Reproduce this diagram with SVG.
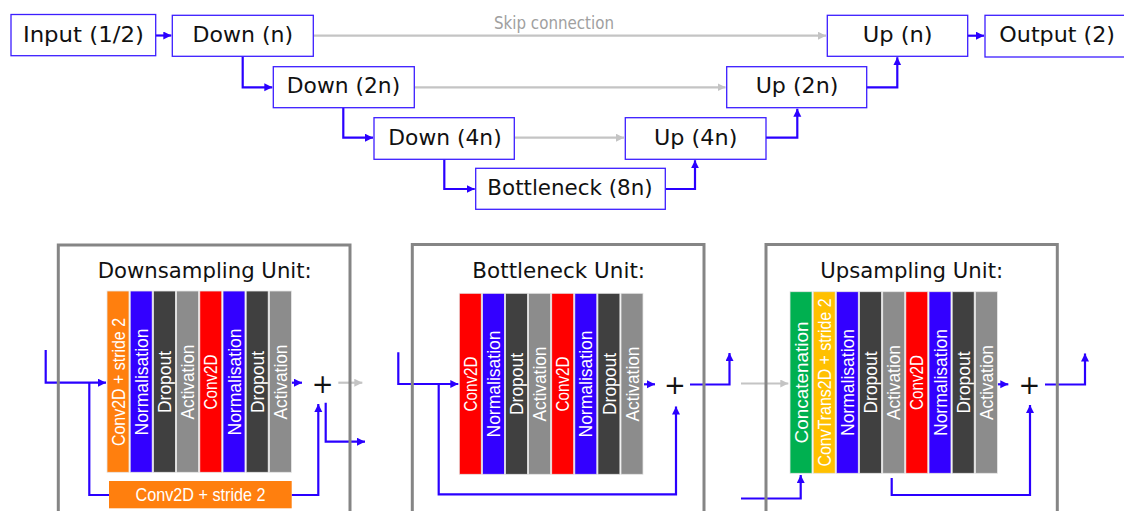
<svg xmlns="http://www.w3.org/2000/svg" width="1124" height="511" viewBox="0 0 1124 511">
<defs>
<style>
.node rect{fill:#fff;stroke:#3c1eff;stroke-width:1.3}
.lbl{font-family:"DejaVu Sans",sans-serif;font-size:22px;fill:#111;text-anchor:middle}
.title{font-family:"DejaVu Sans",sans-serif;font-size:22px;fill:#111;text-anchor:middle}
.unit{fill:none;stroke:#858585;stroke-width:3}
.col{stroke:#e6e6e6;stroke-width:0.8}
.vt{font-family:"Liberation Sans",sans-serif;font-size:18.5px;fill:#fff;text-anchor:middle}
.blue{fill:none;stroke:#2a00ff;stroke-width:2.2}
.gray{fill:none;stroke:#c4c4c4;stroke-width:2.2}
.plus{font-family:"DejaVu Sans",sans-serif;font-size:26px;fill:#111;text-anchor:middle}
.o{fill:#ff7f0e}.b{fill:#3300ff}.d{fill:#404040}.g{fill:#8c8c8c}.r{fill:#ff0000}.gr{fill:#00b050}.y{fill:#ffc000}
</style>
<marker id="ab" markerUnits="userSpaceOnUse" markerWidth="9" markerHeight="9" refX="8" refY="4" orient="auto"><path d="M0,0 L8,4 L0,8 z" fill="#2a00ff"/></marker>
<marker id="ag" markerUnits="userSpaceOnUse" markerWidth="9" markerHeight="9" refX="8" refY="4" orient="auto"><path d="M0,0 L8,4 L0,8 z" fill="#c4c4c4"/></marker>
</defs>

<g id="connectors">
<path class="gray" d="M313.5,35.7 H826" marker-end="url(#ag)"/>
<path class="gray" d="M414.5,87.3 H725.5" marker-end="url(#ag)"/>
<path class="gray" d="M514.5,137.7 H624" marker-end="url(#ag)"/>
<path class="blue" d="M155.7,35.5 H171.3" marker-end="url(#ab)"/>
<path class="blue" d="M242.7,56.3 V87.3 H272.3" marker-end="url(#ab)"/>
<path class="blue" d="M343.3,107.7 V137.7 H373" marker-end="url(#ab)"/>
<path class="blue" d="M444.3,159.3 V189 H474.7" marker-end="url(#ab)"/>
<path class="blue" d="M665.3,189 H695 V160.3" marker-end="url(#ab)"/>
<path class="blue" d="M766,137.7 H797.3 V108.7" marker-end="url(#ab)"/>
<path class="blue" d="M866.7,87.3 H897.3 V57.3" marker-end="url(#ab)"/>
<path class="blue" d="M967.7,35.7 H984" marker-end="url(#ab)"/>
<text x="554" y="29" font-family="DejaVu Sans, sans-serif" font-size="17" fill="#a0a0a0" text-anchor="middle" textLength="120" lengthAdjust="spacingAndGlyphs">Skip connection</text>

<path class="blue" d="M45.7,350 V382.7 H106" marker-end="url(#ab)"/>
<path class="blue" d="M89.3,382.7 V495 H109"/>
<path class="blue" d="M291.5,382.7 H302" marker-end="url(#ab)"/>
<path class="blue" d="M291.7,495 H318.3 V404" marker-end="url(#ab)"/>
<path class="blue" d="M325.7,402.7 V441.7 H365" marker-end="url(#ab)"/>
<path class="gray" d="M338.3,382.7 H362.3" marker-end="url(#ag)"/>

<path class="blue" d="M398.3,352.3 V384 H458.3" marker-end="url(#ab)"/>
<path class="blue" d="M438.7,384 V494.3 H676 V406.5" marker-end="url(#ab)"/>
<path class="blue" d="M644,384.3 H655" marker-end="url(#ab)"/>
<path class="blue" d="M690,384.5 H729.5 V353" marker-end="url(#ab)"/>

<path class="gray" d="M741,383.5 H788.3" marker-end="url(#ag)"/>
<path class="blue" d="M741,498.5 H800.7 V475" marker-end="url(#ab)"/>
<path class="blue" d="M891.7,478 V495 H1030 V405" marker-end="url(#ab)"/>
<path class="blue" d="M997.5,384.3 H1008.3" marker-end="url(#ab)"/>
<path class="blue" d="M1045,384.5 H1085 V353.5" marker-end="url(#ab)"/>
</g>

<g id="n-input" class="node"><rect x="11" y="14.5" width="144.7" height="41.2"/><text class="lbl" x="83.4" y="41.5" textLength="121" lengthAdjust="spacingAndGlyphs">Input (1/2)</text></g>
<g id="n-down1" class="node"><rect x="172.3" y="15.3" width="141" height="41"/><text class="lbl" x="242.9" y="42" textLength="100.6" lengthAdjust="spacingAndGlyphs">Down (n)</text></g>
<g id="n-down2" class="node"><rect x="273.3" y="66.7" width="141" height="41"/><text class="lbl" x="343.5" y="93.3" textLength="113.3" lengthAdjust="spacingAndGlyphs">Down (2n)</text></g>
<g id="n-down4" class="node"><rect x="374" y="117.7" width="140.3" height="41.6"/><text class="lbl" x="445" y="144.5" textLength="113.3" lengthAdjust="spacingAndGlyphs">Down (4n)</text></g>
<g id="n-bottleneck" class="node"><rect x="475.7" y="168.3" width="189.6" height="41"/><text class="lbl" x="570" y="195" textLength="165.3" lengthAdjust="spacingAndGlyphs">Bottleneck (8n)</text></g>
<g id="n-up4" class="node"><rect x="625.3" y="117.7" width="140.7" height="41.6"/><text class="lbl" x="695.7" y="144.5" textLength="83.3" lengthAdjust="spacingAndGlyphs">Up (4n)</text></g>
<g id="n-up2" class="node"><rect x="726.7" y="66.7" width="140" height="41"/><text class="lbl" x="797" y="93.3" textLength="82.7" lengthAdjust="spacingAndGlyphs">Up (2n)</text></g>
<g id="n-up1" class="node"><rect x="827.3" y="15.3" width="140.4" height="41"/><text class="lbl" x="897.7" y="42" textLength="70" lengthAdjust="spacingAndGlyphs">Up (n)</text></g>
<g id="n-output" class="node"><rect x="985" y="15.3" width="144" height="41.7"/><text class="lbl" x="1057.2" y="42" textLength="115.7" lengthAdjust="spacingAndGlyphs">Output (2)</text></g>

<g id="unit-down">
<rect class="unit" x="58.3" y="245" width="291.7" height="290"/>
<text class="title" x="204.7" y="278.3" textLength="214" lengthAdjust="spacingAndGlyphs">Downsampling Unit:</text>
<rect class="col o" x="107" y="291" width="22" height="181.3"/>
<rect class="col b" x="130.2" y="291" width="22" height="181.3"/>
<rect class="col d" x="153.4" y="291" width="22" height="181.3"/>
<rect class="col g" x="176.6" y="291" width="22" height="181.3"/>
<rect class="col r" x="199.8" y="291" width="22" height="181.3"/>
<rect class="col b" x="223" y="291" width="22" height="181.3"/>
<rect class="col d" x="246.2" y="291" width="22" height="181.3"/>
<rect class="col g" x="269.4" y="291" width="22" height="181.3"/>
<g transform="translate(118,382) rotate(-90)"><text class="vt" y="6.6" textLength="128" lengthAdjust="spacingAndGlyphs">Conv2D + stride 2</text></g>
<g transform="translate(141.2,382) rotate(-90)"><text class="vt" y="6.6" textLength="107" lengthAdjust="spacingAndGlyphs">Normalisation</text></g>
<g transform="translate(164.4,382) rotate(-90)"><text class="vt" y="6.6" textLength="62" lengthAdjust="spacingAndGlyphs">Dropout</text></g>
<g transform="translate(187.6,382) rotate(-90)"><text class="vt" y="6.6" textLength="75" lengthAdjust="spacingAndGlyphs">Activation</text></g>
<g transform="translate(210.8,382) rotate(-90)"><text class="vt" y="6.6" textLength="55" lengthAdjust="spacingAndGlyphs">Conv2D</text></g>
<g transform="translate(234,382) rotate(-90)"><text class="vt" y="6.6" textLength="107" lengthAdjust="spacingAndGlyphs">Normalisation</text></g>
<g transform="translate(257.2,382) rotate(-90)"><text class="vt" y="6.6" textLength="62" lengthAdjust="spacingAndGlyphs">Dropout</text></g>
<g transform="translate(280.4,382) rotate(-90)"><text class="vt" y="6.6" textLength="75" lengthAdjust="spacingAndGlyphs">Activation</text></g>
<rect class="o" x="109" y="481" width="182.7" height="27.3"/>
<text class="vt" x="200.5" y="501" textLength="130" lengthAdjust="spacingAndGlyphs">Conv2D + stride 2</text>
<text class="plus" x="322.7" y="392.5">+</text>
</g>

<g id="unit-bottleneck">
<rect class="unit" x="412.3" y="244.5" width="291.7" height="290"/>
<text class="title" x="558.7" y="278.3" textLength="172.7" lengthAdjust="spacingAndGlyphs">Bottleneck Unit:</text>
<rect class="col r" x="459.3" y="293.3" width="22" height="181"/>
<rect class="col b" x="482.4" y="293.3" width="22" height="181"/>
<rect class="col d" x="505.5" y="293.3" width="22" height="181"/>
<rect class="col g" x="528.6" y="293.3" width="22" height="181"/>
<rect class="col r" x="551.7" y="293.3" width="22" height="181"/>
<rect class="col b" x="574.8" y="293.3" width="22" height="181"/>
<rect class="col d" x="597.9" y="293.3" width="22" height="181"/>
<rect class="col g" x="621" y="293.3" width="22" height="181"/>
<g transform="translate(470.3,384) rotate(-90)"><text class="vt" y="6.6" textLength="55" lengthAdjust="spacingAndGlyphs">Conv2D</text></g>
<g transform="translate(493.4,384) rotate(-90)"><text class="vt" y="6.6" textLength="107" lengthAdjust="spacingAndGlyphs">Normalisation</text></g>
<g transform="translate(516.5,384) rotate(-90)"><text class="vt" y="6.6" textLength="62" lengthAdjust="spacingAndGlyphs">Dropout</text></g>
<g transform="translate(539.6,384) rotate(-90)"><text class="vt" y="6.6" textLength="75" lengthAdjust="spacingAndGlyphs">Activation</text></g>
<g transform="translate(562.7,384) rotate(-90)"><text class="vt" y="6.6" textLength="55" lengthAdjust="spacingAndGlyphs">Conv2D</text></g>
<g transform="translate(585.8,384) rotate(-90)"><text class="vt" y="6.6" textLength="107" lengthAdjust="spacingAndGlyphs">Normalisation</text></g>
<g transform="translate(608.9,384) rotate(-90)"><text class="vt" y="6.6" textLength="62" lengthAdjust="spacingAndGlyphs">Dropout</text></g>
<g transform="translate(632,384) rotate(-90)"><text class="vt" y="6.6" textLength="75" lengthAdjust="spacingAndGlyphs">Activation</text></g>
<text class="plus" x="675" y="394">+</text>
</g>

<g id="unit-up">
<rect class="unit" x="766" y="244.5" width="291.3" height="290"/>
<text class="title" x="911.7" y="278.3" textLength="183" lengthAdjust="spacingAndGlyphs">Upsampling Unit:</text>
<rect class="col gr" x="790" y="291.7" width="22" height="181.6"/>
<rect class="col y" x="813.2" y="291.7" width="22" height="181.6"/>
<rect class="col b" x="836.3" y="291.7" width="22" height="181.6"/>
<rect class="col d" x="859.5" y="291.7" width="22" height="181.6"/>
<rect class="col g" x="882.7" y="291.7" width="22" height="181.6"/>
<rect class="col r" x="905.8" y="291.7" width="22" height="181.6"/>
<rect class="col b" x="929" y="291.7" width="22" height="181.6"/>
<rect class="col d" x="952.2" y="291.7" width="22" height="181.6"/>
<rect class="col g" x="975.4" y="291.7" width="22" height="181.6"/>
<g transform="translate(801,382.5) rotate(-90)"><text class="vt" y="6.6" textLength="122" lengthAdjust="spacingAndGlyphs">Concatenation</text></g>
<g transform="translate(824.2,382.5) rotate(-90)"><text class="vt" y="6.6" textLength="168" lengthAdjust="spacingAndGlyphs">ConvTrans2D + stride 2</text></g>
<g transform="translate(847.3,382.5) rotate(-90)"><text class="vt" y="6.6" textLength="107" lengthAdjust="spacingAndGlyphs">Normalisation</text></g>
<g transform="translate(870.5,382.5) rotate(-90)"><text class="vt" y="6.6" textLength="62" lengthAdjust="spacingAndGlyphs">Dropout</text></g>
<g transform="translate(893.7,382.5) rotate(-90)"><text class="vt" y="6.6" textLength="75" lengthAdjust="spacingAndGlyphs">Activation</text></g>
<g transform="translate(916.8,382.5) rotate(-90)"><text class="vt" y="6.6" textLength="55" lengthAdjust="spacingAndGlyphs">Conv2D</text></g>
<g transform="translate(940,382.5) rotate(-90)"><text class="vt" y="6.6" textLength="107" lengthAdjust="spacingAndGlyphs">Normalisation</text></g>
<g transform="translate(963.2,382.5) rotate(-90)"><text class="vt" y="6.6" textLength="62" lengthAdjust="spacingAndGlyphs">Dropout</text></g>
<g transform="translate(986.4,382.5) rotate(-90)"><text class="vt" y="6.6" textLength="75" lengthAdjust="spacingAndGlyphs">Activation</text></g>
<text class="plus" x="1029.3" y="394">+</text>
</g>
</svg>
